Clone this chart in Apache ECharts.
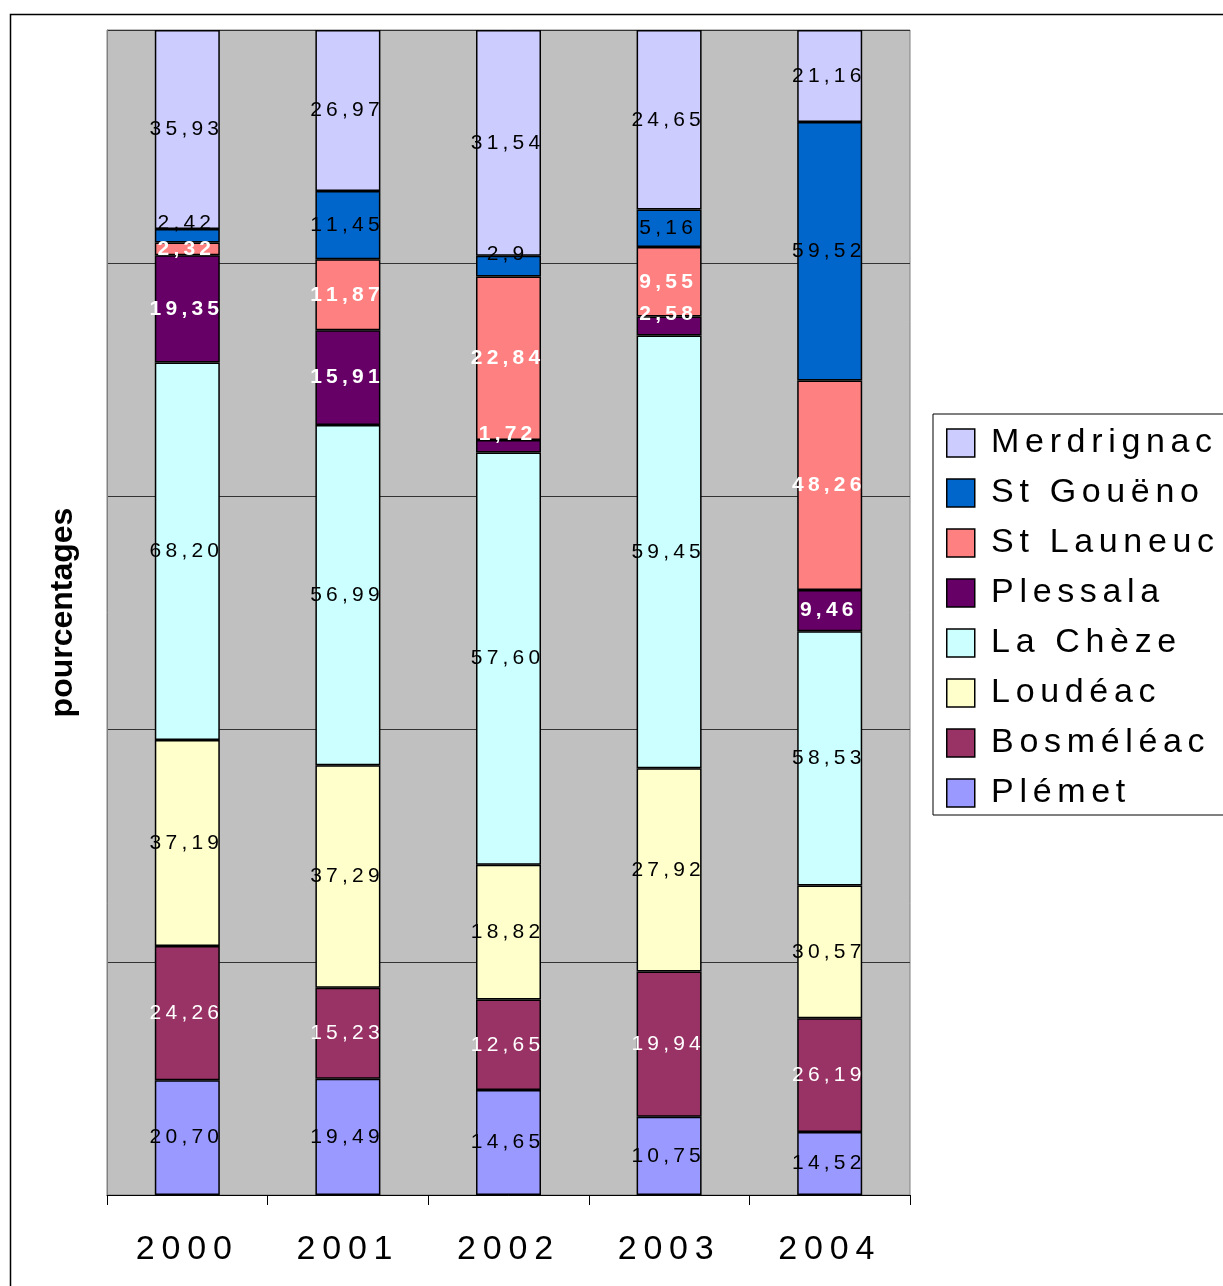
<!DOCTYPE html>
<html>
<head>
<meta charset="utf-8">
<script src="https://cdn.jsdelivr.net/npm/echarts@6/dist/echarts.min.js"></script>
<style>
html,body{margin:0;padding:0;background:#fff;}
#chart{width:1223px;height:1286px;}
</style>
</head>
<body>
<div id="chart"></div>
<script>
// ---- data (values as printed on the chart) ----
const years = ['2000', '2001', '2002', '2003', '2004'];
const plemet     = ['20.70', '19.49', '14.65', '10.75', '14.52'];
const bosmeleac  = ['24.26', '15.23', '12.65', '19.94', '26.19'];
const loudeac    = ['37.19', '37.29', '18.82', '27.92', '30.57'];
const laCheze    = ['68.20', '56.99', '57.60', '59.45', '58.53'];
const plessala   = ['19.35', '15.91', '1.72', '2.58', '9.46'];
const stLauneuc  = ['2.32', '11.87', '22.84', '9.55', '48.26'];
const stGoueno   = ['2.42', '11.45', '2.9', '5.16', '59.52'];
const merdrignac = ['35.93', '26.97', '31.54', '24.65', '21.16'];
const seriesNames = ['Plémet', 'Bosméléac', 'Loudéac', 'La Chèze', 'Plessala', 'St Launeuc', 'St Gouëno', 'Merdrignac'];
const yTicks = [0, 20, 40, 60, 80, 100];

// ---- styling ----
const seriesData = [plemet, bosmeleac, loudeac, laCheze, plessala, stLauneuc, stGoueno, merdrignac];
const colors = ['#9999FF', '#993366', '#FFFFCC', '#CCFFFF', '#660066', '#FF8080', '#0066CC', '#CCCCFF'];
const labelColors = ['#000', '#fff', '#000', '#000', '#fff', '#fff', '#000', '#000'];
const labelWeights = ['normal', 'normal', 'normal', 'normal', 'bold', 'bold', 'normal', 'normal'];
const FONT = '"Liberation Sans", Arial, sans-serif';
const SP = '\u2009';
const LSP = '\u2006';
const spaced = (s, sp) => s.split('').join(sp || SP);

const totals = years.map((_, i) => seriesData.reduce((acc, arr) => acc + parseFloat(arr[i]), 0));
const share = (k, i) => parseFloat(seriesData[k][i]) / totals[i] * 100;

const series = seriesData.map((arr, k) => ({
  name: seriesNames[k],
  type: 'bar',
  stack: 'total',
  barWidth: 65,
  data: arr.map((v, i) => {
    const s = share(k, i);
    // thin segments: label lifted above the segment (unless the segment above is thin as well)
    const above = k + 1 < seriesData.length ? share(k + 1, i) : 100;
    const lift = (s < 2 && above >= 2) ? -12 : 0;
    return { value: s, raw: v, label: { offset: [-3, lift] } };
  }),
  itemStyle: { color: colors[k], borderColor: '#000', borderWidth: 1.5 },
  label: {
    show: true,
    position: 'inside',
    offset: [-3, 0],
    fontFamily: FONT,
    fontSize: 21,
    color: labelColors[k],
    fontWeight: labelWeights[k],
    formatter: p => spaced(p.data.raw.replace('.', ','))
  },
  emphasis: { disabled: true }
}));

const chart = echarts.init(document.getElementById('chart'), null, { renderer: 'canvas' });
chart.setOption({
  backgroundColor: '#fff',
  animation: false,
  graphic: [{
    type: 'rect',
    shape: { x: 10.5, y: 14.5, width: 1400, height: 1400 },
    style: { fill: 'none', stroke: '#000', lineWidth: 1.5 },
    silent: true,
    z: -10
  }],
  grid: {
    left: 107, right: 313, top: 30, bottom: 91,
    show: true, backgroundColor: '#C0C0C0', borderColor: '#808080', borderWidth: 1
  },
  legend: {
    orient: 'vertical',
    left: 933, top: 414,
    data: seriesNames.slice().reverse(),
    icon: 'rect',
    itemWidth: 28, itemHeight: 28, itemGap: 16,
    padding: [12, 30, 5, 13],
    borderColor: '#000', borderWidth: 1,
    backgroundColor: '#fff',
    textStyle: { fontFamily: FONT, fontSize: 34, color: '#000' },
    formatter: n => LSP + LSP + spaced(n, LSP),
    itemStyle: { borderColor: '#000', borderWidth: 1.5 }
  },
  xAxis: {
    type: 'category',
    data: years,
    axisLine: { show: true, lineStyle: { color: '#000', width: 1 } },
    axisTick: { show: true, length: 10, lineStyle: { color: '#000' } },
    axisLabel: { fontFamily: FONT, fontSize: 34, color: '#000', margin: 38, formatter: v => spaced(v) + SP }
  },
  yAxis: {
    type: 'value',
    min: yTicks[0], max: yTicks[yTicks.length - 1], interval: yTicks[1] - yTicks[0],
    name: 'pourcentages',
    nameLocation: 'middle',
    nameGap: 28,
    nameTextStyle: { fontFamily: FONT, fontSize: 32, fontWeight: 'bold', color: '#000' },
    axisLabel: { show: false },
    axisTick: { show: false },
    axisLine: { show: true, lineStyle: { color: '#808080' } },
    splitLine: { show: true, lineStyle: { color: '#333', width: 1 } }
  },
  series: series
});
</script>
</body>
</html>
